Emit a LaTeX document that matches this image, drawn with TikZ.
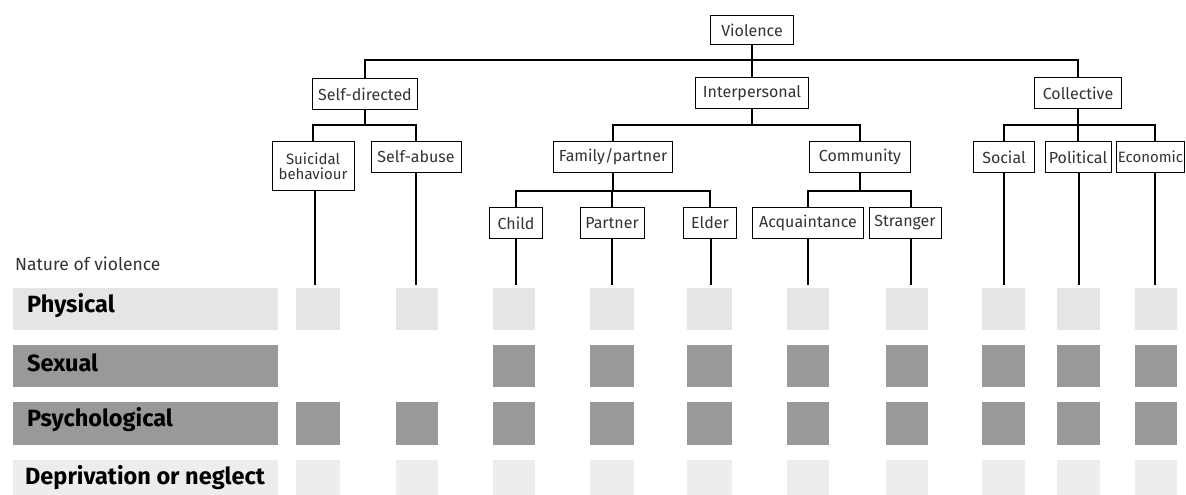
\documentclass[tikz,border=0pt]{standalone}
\usepackage{fontspec}
\setmainfont{Fira Sans}
\begin{document}
\begin{tikzpicture}[x=1pt,y=-1pt,
  box/.style={draw, line width=0.8pt, anchor=north, inner sep=1pt, minimum height=31pt,
    font=\fontsize{16}{17}\selectfont, text=black!80},
  conn/.style={line width=1.1pt},
  lead/.style={line width=1.6pt},
  dense/.style={fill=black!40},
  sparse/.style={fill=black!10},
  faint/.style={fill=black!7},
  lab/.style={anchor=west, inner sep=0pt, font=\fontsize{23.5}{26}\bfseries\selectfont},
  plain/.style={anchor=west, inner sep=0pt, font=\fontsize{17.5}{19}\selectfont, text=black!80}]
\useasboundingbox (0,0) rectangle (1186,495);
\clip (0,0) rectangle (1186,495);
\fill[white] (0,0) rectangle (1186,495);

% column coordinates
\foreach \n/\x in {sui/315,abu/416,chi/516,par/612,eld/711,acq/808,str/911,soc/1004,pol/1079,eco/1155}{
  \coordinate (c\n) at (\x,285);
}

% level 0
\node[box, minimum width=83pt, minimum height=29pt] (vio) at (752,15) {Violence};
% level 1
\node[box, minimum width=105pt] (self) at (365,78) {Self-directed};
\node[box, minimum width=113pt] (inter) at (752,77) {Interpersonal};
\node[box, minimum width=87pt] (coll) at (1078,77) {Collective};
% level 2
\node[box, minimum width=82pt, minimum height=49pt, align=center, font=\fontsize{15}{15}\selectfont] (sui) at (313,141) {Suicidal\\behaviour};
\node[box, minimum width=90pt] (abu) at (416,141) {Self-abuse};
\node[box, minimum width=119pt] (fam) at (613,141) {Family/partner};
\node[box, minimum width=101pt] (com) at (860,141) {Community};
\node[box, minimum width=61pt] (soc) at (1004,141) {Social};
\node[box, minimum width=66pt] (pol) at (1078,141) {Political};
\node[box, minimum width=68pt, inner sep=0.5pt, font=\fontsize{15}{16}\selectfont] (eco) at (1150.5,141) {Economic};
% level 3
\node[box, minimum width=53pt] (chi) at (516,207) {Child};
\node[box, minimum width=64pt] (par) at (612,207) {Partner};
\node[box, minimum width=53pt] (eld) at (710,207) {Elder};
\node[box, minimum width=111pt] (acq) at (808,207) {Acquaintance};
\node[box, minimum width=72pt] (str) at (905,207) {Stranger};

% tree connectors
\coordinate (h1) at (0,60);
\coordinate (h2) at (0,125);
\coordinate (h3) at (0,191);
\draw[conn] (vio.south) -- (inter.north);
\draw[conn] (self.north) -- (self.north |- h1) -- (coll.north |- h1) -- (coll.north);
\draw[conn] (self.south) -- (self.south |- h2);
\draw[conn] (sui.north) -- (sui.north |- h2) -- (abu.north |- h2) -- (abu.north);
\draw[conn] (inter.south) -- (inter.south |- h2);
\draw[conn] (fam.north) -- (fam.north |- h2) -- (com.north |- h2) -- (com.north);
\draw[conn] (coll.south) -- (pol.north);
\draw[conn] (soc.north) -- (soc.north |- h2) -- (ceco |- h2) -- (eco.north -| ceco);
\draw[conn] (fam.south) -- (fam.south |- h3);
\draw[conn] (chi.north) -- (chi.north |- h3) -- (eld.north |- h3) -- (eld.north);
\draw[conn] (par.north) -- (par.north |- h3);
\draw[conn] (com.south) -- (com.south |- h3);
\draw[conn] (acq.north) -- (acq.north |- h3) -- (cstr |- h3) -- (str.north -| cstr);

% column leads
\foreach \n in {sui,abu,chi,par,eld,acq,str,soc,pol,eco}{
  \draw[lead] (\n.south -| c\n) -- (c\n);
}

% nature of violence
\node[plain] (nat) at (15,264) {Nature of violence};

% row bars
\fill[sparse] (13,288) rectangle (278,330);
\fill[dense] (13,345) rectangle (278,387);
\fill[dense] (13,402) rectangle (278,445);
\fill[faint] (13,460) rectangle (278,502);
\node[lab] (phy) at (27,306) {Physical};
\node[lab] (sex) at (27,363) {Sexual};
\node[lab] (psy) at (27,420) {Psychological};
\node[lab] (dep) at (25,478) {Deprivation or neglect};

% cells
\foreach \a/\b in {296/340,396/438,493/535,590/634,687/732,787/829,886/928,982/1025,1057/1100,1135/1177}{
  \fill[sparse] (\a,288) rectangle (\b,330);
  \fill[dense] (\a,402) rectangle (\b,445);
  \fill[faint] (\a,460) rectangle (\b,502);
}
\foreach \a/\b in {493/535,590/634,687/732,787/829,886/928,982/1025,1057/1100,1135/1177}{
  \fill[dense] (\a,345) rectangle (\b,387);
}
\end{tikzpicture}
\end{document}
